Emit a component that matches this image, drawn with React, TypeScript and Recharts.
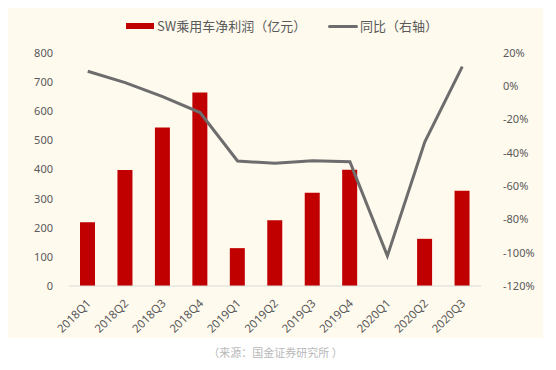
import React from "react";
import { ComposedChart, Bar, Line, XAxis, YAxis, Legend } from "recharts";

const categories = ["2018Q1","2018Q2","2018Q3","2018Q4","2019Q1","2019Q2","2019Q3","2019Q4","2020Q1","2020Q2","2020Q3"];
const profit: (number | null)[] = [219, 398, 544, 664, 130, 226, 320, 399, null, 162, 327];
const yoy: number[] = [9, 2.2, -6.2, -15.8, -44.9, -46.3, -44.7, -45.3, -101.9, -33.3, 11.8];
const leftTicks = [0, 100, 200, 300, 400, 500, 600, 700, 800];
const rightTicks = [-120, -100, -80, -60, -40, -20, 0, 20];

const data = categories.map((c, i) => ({ name: c, profit: profit[i], yoy: yoy[i] }));

const BAR_NAME = "SW乘用车净利润（亿元）";
const LINE_NAME = "同比（右轴）";

const XTick = (props: any) => {
  const { x, y, payload } = props;
  const ax = x + 4;
  const ay = y + 10;
  return (
    <text
      x={ax}
      y={ay}
      textAnchor="end"
      fill="#595959"
      fontSize={11.5}
      fontFamily="Noto Sans, sans-serif"
      transform={`rotate(-45 ${ax} ${ay})`}
    >
      {payload.value}
    </text>
  );
};

const LegendContent = () => (
  <div style={{ position: "relative", height: 20, fontFamily: "'Noto Sans CJK SC', sans-serif", fontSize: 13, color: "#595959" }}>
    <div style={{ position: "absolute", left: 118, top: 7, width: 28, height: 6, background: "#C00000" }} />
    <div style={{ position: "absolute", left: 149, top: 0, lineHeight: "20px", whiteSpace: "nowrap" }}>{BAR_NAME}</div>
    <div style={{ position: "absolute", left: 320, top: 9, width: 30, height: 3, background: "#6d6d6d", borderRadius: 2 }} />
    <div style={{ position: "absolute", left: 352, top: 0, lineHeight: "20px", whiteSpace: "nowrap" }}>{LINE_NAME}</div>
  </div>
);

export default function App() {
  return (
    <div style={{ width: 535 }}>
      <div style={{ width: 535, height: 330, background: "#FFFAEE" }}>
        <ComposedChart width={535} height={330} data={data} margin={{ top: 25, right: 0, bottom: 0, left: 0 }}>
          <Legend
            verticalAlign="top"
            align="left"
            height={20}
            content={<LegendContent />}
            wrapperStyle={{ top: 8, left: 0, width: 535 }}
          />
          <XAxis
            dataKey="name"
            height={52}
            tickLine={false}
            axisLine={{ stroke: "#d9d9d9", strokeWidth: 1 }}
            tick={<XTick />}
            interval={0}
          />
          <YAxis
            yAxisId="left"
            domain={[0, 800]}
            ticks={leftTicks}
            width={61}
            axisLine={false}
            tickLine={false}
            tickMargin={10}
            tick={{ fill: "#595959", fontSize: 11, fontFamily: "Noto Sans, sans-serif" }}
            interval={0}
          />
          <YAxis
            yAxisId="right"
            orientation="right"
            domain={[-120, 20]}
            ticks={rightTicks}
            width={62}
            axisLine={false}
            tickLine={false}
            tickMargin={16}
            tickFormatter={(v: number) => `${v}%`}
            tick={{ fill: "#595959", fontSize: 11, fontFamily: "Noto Sans, sans-serif", textAnchor: "start" }}
            interval={0}
          />
          <Bar yAxisId="left" dataKey="profit" name={BAR_NAME} fill="#C00000" barSize={15} isAnimationActive={false} />
          <Line
            yAxisId="right"
            dataKey="yoy"
            name={LINE_NAME}
            stroke="#6d6d6d"
            strokeWidth={3}
            dot={false}
            type="linear"
            isAnimationActive={false}
          />
        </ComposedChart>
      </div>
      <div
        style={{
          marginTop: 6,
          width: 535,
          height: 16,
          lineHeight: "16px",
          textAlign: "center",
          fontFamily: "'Noto Sans CJK SC', sans-serif",
          fontSize: 11,
          color: "#b8b8b8",
        }}
      >
        （来源：国金证券研究所 ）
      </div>
    </div>
  );
}
